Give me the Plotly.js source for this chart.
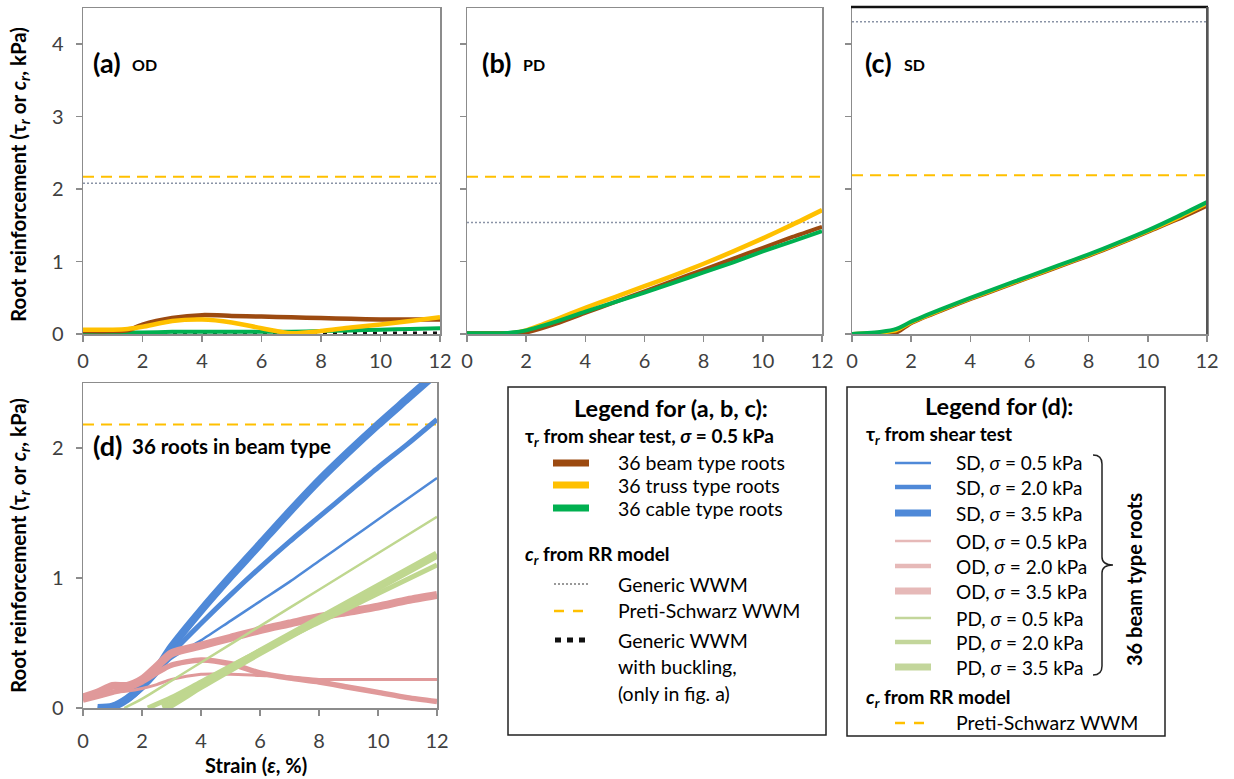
<!DOCTYPE html>
<html>
<head>
<meta charset="utf-8">
<script src="https://cdn.plot.ly/plotly-3.0.1.min.js"></script>
<style>html,body{margin:0;padding:0;background:#fff;}#chart{width:1234px;height:779px;}</style>
</head>
<body>
<div id="chart"></div>
<script>
// ---------- DATA ----------
const strainABC = [0, 1, 1.5, 2, 3, 4, 5, 6, 7, 8, 9, 10, 11, 12];
// (a) OD
const odBeam  = [0.04, 0.04, 0.05, 0.13, 0.22, 0.26, 0.25, 0.24, 0.23, 0.22, 0.21, 0.2, 0.2, 0.2];
const odTruss = [0.06, 0.06, 0.07, 0.1, 0.18, 0.2, 0.16, 0.08, 0.01, 0.04, 0.09, 0.13, 0.18, 0.23];
const odCable = [0.02, 0.02, 0.02, 0.02, 0.03, 0.03, 0.03, 0.03, 0.03, 0.04, 0.05, 0.06, 0.07, 0.08];
const odBuckling = [0.01, 0.01, 0.01, 0.01, 0.01, 0.01, 0.01, 0.01, 0.01, 0.015, 0.015, 0.015, 0.015, 0.015];
// (b) PD
const pdBeam  = [0.01, 0.01, 0.01, 0.02, 0.14, 0.29, 0.44, 0.59, 0.74, 0.89, 1.04, 1.19, 1.34, 1.48];
const pdTruss = [0.01, 0.01, 0.01, 0.05, 0.2, 0.36, 0.51, 0.66, 0.81, 0.97, 1.14, 1.32, 1.51, 1.71];
const pdCable = [0.01, 0.01, 0.02, 0.05, 0.17, 0.31, 0.44, 0.57, 0.71, 0.85, 0.99, 1.14, 1.28, 1.42];
// (c) SD
const sdBeam  = [0, 0.01, 0.02, 0.15, 0.32, 0.48, 0.63, 0.78, 0.93, 1.08, 1.24, 1.41, 1.58, 1.77];
const sdTruss = [0, 0.02, 0.05, 0.16, 0.33, 0.49, 0.64, 0.79, 0.94, 1.09, 1.25, 1.42, 1.6, 1.8];
const sdCable = [0, 0.03, 0.07, 0.17, 0.34, 0.5, 0.65, 0.8, 0.95, 1.1, 1.26, 1.43, 1.62, 1.82];
// RR model constant values per panel
const genericWWM = {a: 2.08, b: 1.54, c: 4.31};
const pretiWWM   = {a: 2.17, b: 2.17, c: 2.19, d: 2.18};
const strainSpan = [0, 12];

// (d) 36 beam roots
const strainD = [0, 0.5, 1, 1.5, 2, 2.5, 3, 4, 5, 6, 7, 8, 9, 10, 11, 12];
const strainSD = [0.5, 1, 1.5, 2, 2.5, 3, 4, 5, 6, 7, 8, 9, 10, 11, 12];
const sd05 = [0, 0.02, 0.08, 0.17, 0.27, 0.38, 0.52, 0.67, 0.82, 0.97, 1.13, 1.29, 1.45, 1.61, 1.77];
const sd20 = [0, 0.01, 0.06, 0.15, 0.27, 0.42, 0.65, 0.87, 1.08, 1.28, 1.47, 1.66, 1.85, 2.03, 2.22];
const sd35 = [0, 0.01, 0.07, 0.17, 0.3, 0.47, 0.75, 1.01, 1.26, 1.51, 1.75, 1.97, 2.18, 2.38, 2.58];
const od05 = [0.1, 0.11, 0.12, 0.13, 0.15, 0.18, 0.22, 0.26, 0.26, 0.25, 0.24, 0.22, 0.22, 0.22, 0.22, 0.22];
const od20 = [0.06, 0.09, 0.12, 0.15, 0.2, 0.27, 0.33, 0.37, 0.34, 0.27, 0.23, 0.2, 0.16, 0.12, 0.08, 0.05];
const od35 = [0.08, 0.12, 0.17, 0.17, 0.22, 0.32, 0.42, 0.48, 0.54, 0.6, 0.65, 0.7, 0.74, 0.78, 0.83, 0.87];
const strainPD05 = [1.4, 2, 3, 4, 6, 8, 10, 12];
const pd05 = [0, 0.07, 0.21, 0.35, 0.63, 0.91, 1.19, 1.47];
const strainPD20 = [2.2, 3, 4, 6, 8, 10, 12];
const pd20 = [0, 0.08, 0.2, 0.44, 0.66, 0.88, 1.1];
const strainPD35 = [2.7, 3, 4, 6, 8, 10, 12];
const pd35 = [0, 0.03, 0.17, 0.43, 0.68, 0.93, 1.18];

const xTicks = [0, 2, 4, 6, 8, 10, 12];

// ---------- STYLE ----------
const C = {brown: '#9C4A10', yellow: '#FFC000', green: '#00B050', gray: '#8a93a6',
  blue: '#4F89D8', pink: '#E0999A', lgreen: '#BFD78F', black: '#111'};
const FONT = 'Lato, "Open Sans", sans-serif';
const W = 1234, H = 779;
const X = p => p / W, Y = p => 1 - p / H;

function ln(x, y, color, width, ax, dash) {
  const curved = !dash && x.length > 2;
  return {x: x, y: y, type: 'scatter', mode: 'lines', xaxis: 'x' + ax, yaxis: 'y' + ax,
    line: {color: color, width: width, dash: dash || 'solid',
      shape: curved ? 'spline' : 'linear', smoothing: 0.7}, hoverinfo: 'skip'};
}
function hline(v, color, width, ax, dash) {
  return ln(strainSpan, [v, v], color, width, ax, dash);
}
const DOT = '2px,2px', DASH = '11px,7px';

const traces = [
  // (a)
  hline(genericWWM.a, C.gray, 1.5, '', DOT),
  hline(pretiWWM.a, C.yellow, 2, '', DASH),
  ln(strainABC, odBuckling, C.black, 3, '', '4px,6px'),
  ln(strainABC, odCable, C.green, 4, ''),
  ln(strainABC, odBeam, C.brown, 4.5, ''),
  ln(strainABC, odTruss, C.yellow, 4.5, ''),
  // (b)
  hline(genericWWM.b, C.gray, 1.5, '2', DOT),
  hline(pretiWWM.b, C.yellow, 2, '2', DASH),
  ln(strainABC, pdTruss, C.yellow, 4.5, '2'),
  ln(strainABC, pdBeam, C.brown, 4, '2'),
  ln(strainABC, pdCable, C.green, 4, '2'),
  // (c)
  hline(genericWWM.c, C.gray, 1.5, '3', DOT),
  hline(pretiWWM.c, C.yellow, 2, '3', DASH),
  ln(strainABC, sdBeam, C.brown, 4, '3'),
  ln(strainABC, sdTruss, C.yellow, 4, '3'),
  ln(strainABC, sdCable, C.green, 4, '3'),
  // (d)
  hline(pretiWWM.d, C.yellow, 2, '4', DASH),
  ln(strainSD, sd35, C.blue, 8, '4'),
  ln(strainSD, sd20, C.blue, 5, '4'),
  ln(strainSD, sd05, C.blue, 2.5, '4'),
  ln(strainD, od05, C.pink, 3, '4'),
  ln(strainD, od20, C.pink, 5.5, '4'),
  ln(strainD, od35, C.pink, 8, '4'),
  ln(strainPD05, pd05, C.lgreen, 2.5, '4'),
  ln(strainPD20, pd20, C.lgreen, 5, '4'),
  ln(strainPD35, pd35, C.lgreen, 8, '4'),
];

function xax(l, r, anchor, standoff) {
  return {domain: [X(l), X(r)], range: [0, 12], tickvals: xTicks, anchor: anchor,
    showline: true, mirror: true, linecolor: '#8c8c8c', linewidth: 1.5,
    ticks: 'outside', ticklen: 6, tickcolor: '#8c8c8c', tickwidth: 1.5,
    showgrid: false, zeroline: false, ticklabelstandoff: standoff || 2,
    tickfont: {family: FONT, size: 20, color: '#404040'}};
}
function yax(t, b, anchor, range, dtick, labels) {
  return {domain: [Y(b), Y(t)], range: range, dtick: dtick, tick0: 0, anchor: anchor,
    showline: true, mirror: true, linecolor: '#8c8c8c', linewidth: 1.5,
    ticks: 'outside', ticklen: 6, tickcolor: '#8c8c8c', tickwidth: 1.5,
    showticklabels: labels, showgrid: false, zeroline: false, ticklabelstandoff: 8,
    tickfont: {family: FONT, size: 20, color: '#404040'}};
}

const annotations = [];
function txt(text, x, y, size, opts) {
  annotations.push(Object.assign({text: text, x: X(x), y: Y(y), xref: 'paper', yref: 'paper',
    xanchor: 'left', yanchor: 'middle', showarrow: false,
    font: {family: FONT, size: size, color: '#000'}}, opts || {}));
}
const YT = '<b>Root reinforcement (τ<sub><i>r</i></sub> or <i>c</i><sub><i>r</i></sub>, kPa)</b>';
txt(YT, 19, 175, 20.5, {xanchor: 'center', textangle: -90});
txt(YT, 19, 546, 20.5, {xanchor: 'center', textangle: -90});
txt('<b>Strain (<i>ε</i>, %)</b>', 256, 765, 20, {xanchor: 'center'});
// panel labels
txt('<b>(a)</b>', 91, 62, 27); txt('<b>OD</b>', 130, 64, 16);
txt('<b>(b)</b>', 480, 62, 27); txt('<b>PD</b>', 521, 64, 16);
txt('<b>(c)</b>', 863, 62, 27); txt('<b>SD</b>', 902, 64, 16);
txt('<b>(d)</b>', 91, 445, 27); txt('<b>36 roots in beam type</b>', 130, 446, 20.5);

// Legend 1
const shapes = [];
function box(l, t, r, b) {
  shapes.push({type: 'rect', xref: 'paper', yref: 'paper', x0: X(l), x1: X(r), y0: Y(b), y1: Y(t),
    line: {color: '#222', width: 1.5}, fillcolor: 'rgba(0,0,0,0)'});
}
function sample(x0, x1, y, color, width, dash) {
  shapes.push({type: 'line', xref: 'paper', yref: 'paper', x0: X(x0), x1: X(x1), y0: Y(y), y1: Y(y),
    line: {color: color, width: width, dash: dash || 'solid'}});
}
box(508, 387, 826, 735);
txt('<b>Legend for (a, b, c):</b>', 671, 408, 23.5, {xanchor: 'center'});
txt('<b>τ<sub><i>r</i></sub> from shear test, <i>σ</i> = 0.5 kPa</b>', 523, 437, 19);
sample(553, 589, 463, C.brown, 7); txt('36 beam type roots', 616, 463, 19.5);
sample(553, 589, 485, C.yellow, 7); txt('36 truss type roots', 616, 485, 19.5);
sample(553, 589, 508, C.green, 7); txt('36 cable type roots', 616, 508, 19.5);
txt('<b><i>c</i><sub><i>r</i></sub> from RR model</b>', 523, 555, 19);
sample(554, 588, 584, '#999', 2, '2px,2px'); txt('Generic WWM', 616, 584, 19.5);
sample(554, 588, 611, C.yellow, 2.5, '10px,9px'); txt('Preti-Schwarz WWM', 616, 610, 19.5);
sample(555, 588, 640, '#111', 5, '6px,6px'); txt('Generic WWM', 616, 640, 19.5);
txt('with buckling,', 616, 666, 19.5);
txt('(only in fig. a)', 616, 693, 19.5);

// Legend 2
box(847, 387, 1165, 736);
txt('<b>Legend for (d):</b>', 999, 406, 23.5, {xanchor: 'center'});
txt('<b>τ<sub><i>r</i></sub> from shear test</b>', 864, 435, 19);
const dRows = [
  ['SD, <i>σ</i> = 0.5 kPa', 463, C.blue, 2.5],
  ['SD, <i>σ</i> = 2.0 kPa', 487, C.blue, 4.5],
  ['SD, <i>σ</i> = 3.5 kPa', 513, C.blue, 7],
  ['OD, <i>σ</i> = 0.5 kPa', 541, '#E6B9B8', 2.5],
  ['OD, <i>σ</i> = 2.0 kPa', 566, '#E6B9B8', 4.5],
  ['OD, <i>σ</i> = 3.5 kPa', 591, '#E6B9B8', 7],
  ['PD, <i>σ</i> = 0.5 kPa', 618, '#C3D69B', 2.5],
  ['PD, <i>σ</i> = 2.0 kPa', 642, '#C3D69B', 4.5],
  ['PD, <i>σ</i> = 3.5 kPa', 667, '#C3D69B', 7],
];
dRows.forEach(r => { sample(895, 931, r[1], r[2], r[3]); txt(r[0], 954, r[1], 19); });
txt('<b><i>c</i><sub><i>r</i></sub> from RR model</b>', 864, 698, 19);
sample(895, 924, 723, C.yellow, 2.5, '10px,9px'); txt('Preti-Schwarz WWM', 954, 722, 19.5);
txt('<b>36 beam type roots</b>', 1134, 580, 20, {xanchor: 'center', textangle: -90});
// brace
const bx = 1093, bm = 1102, bp = 1113, bt = 455, bc = 565, bb = 675;
const P = (x, y) => X(x).toFixed(5) + ',' + Y(y).toFixed(5);
shapes.push({type: 'path', xref: 'paper', yref: 'paper', line: {color: '#222', width: 1.5},
  path: 'M' + P(bx, bt) + ' Q' + P(bm, bt) + ' ' + P(bm, bt + 9) + ' L' + P(bm, bc - 8) +
    ' Q' + P(bm, bc) + ' ' + P(bp, bc) + ' Q' + P(bm, bc) + ' ' + P(bm, bc + 8) +
    ' L' + P(bm, bb - 9) + ' Q' + P(bm, bb) + ' ' + P(bx, bb)});
// dark top and right border of (c)
shapes.push({type: 'line', xref: 'paper', yref: 'paper', x0: X(851), x1: X(1208), y0: Y(7), y1: Y(7),
  line: {color: '#111', width: 2.5}});
shapes.push({type: 'line', xref: 'paper', yref: 'paper', x0: X(1207), x1: X(1207), y0: Y(7), y1: Y(334),
  line: {color: '#555', width: 2}});

const layout = {
  width: W, height: H, margin: {l: 0, r: 0, t: 0, b: 0}, showlegend: false,
  paper_bgcolor: '#fff', plot_bgcolor: '#fff', font: {family: FONT},
  xaxis: xax(83, 440, 'y'), yaxis: yax(8, 334, 'x', [0, 4.5], 1, true),
  xaxis2: xax(467, 822, 'y2'), yaxis2: yax(8, 334, 'x2', [0, 4.5], 1, false),
  xaxis3: xax(852, 1207, 'y3'), yaxis3: yax(8, 334, 'x3', [0, 4.5], 1, false),
  xaxis4: xax(83, 437, 'y4', 8), yaxis4: yax(383, 708, 'x4', [0, 2.5], 1, true),
  annotations: annotations, shapes: shapes
};
Plotly.newPlot('chart', traces, layout, {staticPlot: true});
</script>
</body>
</html>
